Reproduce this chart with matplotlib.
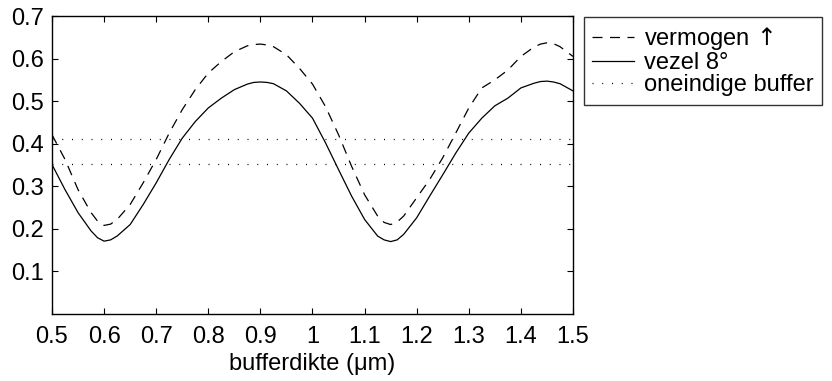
import numpy as np
import matplotlib.pyplot as plt

x = [0.5, 0.525, 0.55, 0.575, 0.5875, 0.6, 0.6125, 0.625, 0.65, 0.675,
     0.7, 0.725, 0.75, 0.775, 0.8, 0.825, 0.85, 0.875, 0.8875, 0.9,
     0.9125, 0.925, 0.95, 0.975, 1.0, 1.025, 1.05, 1.075, 1.1, 1.125,
     1.1375, 1.15, 1.1625, 1.175, 1.2, 1.225, 1.25, 1.275, 1.3, 1.325,
     1.35, 1.375, 1.4, 1.425, 1.4375, 1.45, 1.4625, 1.475, 1.5]

vermogen = [0.421, 0.363, 0.292, 0.238, 0.218, 0.208, 0.211, 0.222, 0.257, 0.308,
            0.363, 0.425, 0.480, 0.527, 0.566, 0.593, 0.616, 0.630, 0.633, 0.634,
            0.632, 0.628, 0.609, 0.577, 0.540, 0.487, 0.421, 0.347, 0.280, 0.230,
            0.215, 0.210, 0.216, 0.230, 0.273, 0.316, 0.367, 0.425, 0.484, 0.531,
            0.550, 0.573, 0.605, 0.627, 0.634, 0.637, 0.635, 0.628, 0.605]

vezel = [0.351, 0.292, 0.238, 0.195, 0.179, 0.171, 0.174, 0.183, 0.210, 0.257,
         0.308, 0.363, 0.413, 0.452, 0.484, 0.507, 0.527, 0.540, 0.544, 0.545,
         0.544, 0.541, 0.524, 0.495, 0.460, 0.402, 0.339, 0.277, 0.222, 0.183,
         0.174, 0.170, 0.174, 0.187, 0.226, 0.277, 0.327, 0.378, 0.425, 0.460,
         0.489, 0.507, 0.531, 0.542, 0.546, 0.547, 0.545, 0.541, 0.524]

oneindig = [0.410, 0.353]

plt.rcParams['font.family'] = ['Liberation Sans', 'DejaVu Sans']
plt.rcParams['mathtext.fontset'] = 'dejavusans'
fs = 17

fig = plt.figure(figsize=(8.32, 3.81), dpi=100)
ax = fig.add_axes([0.0625, 0.176, 0.6262, 0.782])

ax.plot(x, vermogen, color='black', lw=0.9, linestyle=(0, (8, 6)), label='vermogen $\\!\\uparrow$')
ax.plot(x, vezel, color='black', lw=0.9, label='vezel 8\u00b0')
for i, v in enumerate(oneindig):
    ax.axhline(v, color='black', lw=0.9, linestyle=(0, (0.8, 7)),
               label='oneindige buffer' if i == 0 else None)

ax.set_xlim(0.5, 1.5)
ax.set_ylim(0, 0.7)
ax.set_xticks(np.round(np.arange(0.5, 1.51, 0.1), 1))
ax.set_xticklabels(['0.5', '0.6', '0.7', '0.8', '0.9', '1', '1.1', '1.2', '1.3', '1.4', '1.5'])
ax.set_yticks([0.1, 0.2, 0.3, 0.4, 0.5, 0.6, 0.7])
ax.set_yticklabels(['0.1', '0.2', '0.3', '0.4', '0.5', '0.6', '0.7'])
ax.tick_params(direction='in', top=True, right=True, length=4, width=0.8,
               labelsize=fs)
ax.tick_params(axis='x', pad=9)
ax.tick_params(axis='y', pad=6)
for s in ax.spines.values():
    s.set_linewidth(1.0)
ax.set_xlabel('bufferdikte (\u03bcm)', fontsize=fs, labelpad=3)

leg = fig.legend(loc='upper left', bbox_to_anchor=(584 / 832, 1 - 17 / 381),
                 fontsize=fs, frameon=True, fancybox=False, edgecolor='black',
                 handlelength=1.75, handletextpad=0.45, borderpad=0.35,
                 labelspacing=0.0, borderaxespad=0)
leg.get_frame().set_linewidth(1.0)

fig.savefig('out.png', dpi=100)
